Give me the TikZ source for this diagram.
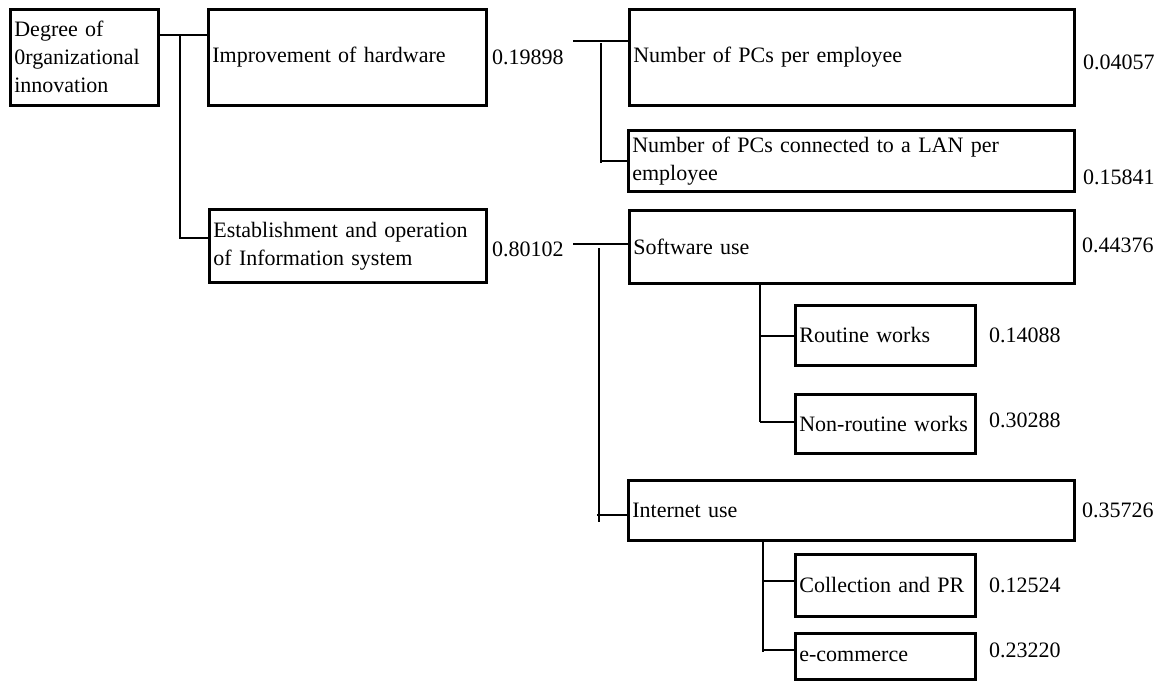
\documentclass[tikz,border=0pt]{standalone}
\usepackage{fontspec}
\setmainfont{Liberation Serif}
\newcommand{\fs}{\fontsize{22}{28}\selectfont}
\tikzset{
  box/.style={draw, line width=2.7pt, anchor=north west, inner xsep=4pt, inner ysep=0pt, align=left, font=\fs},
  val/.style={anchor=west, inner sep=0pt, font=\fs},
  conn/.style={line width=1.3pt}
}
\begin{document}
\begin{tikzpicture}[x=1pt,y=-1pt]
\useasboundingbox (0,0) rectangle (1166,680);
% boxes
\node[box, minimum width=148, minimum height=96, text width=140] (root) at (9,8) {Degree of\\0rganizational\\innovation};
\node[box, minimum width=278, minimum height=96, text width=270] (imp) at (207,8) {Improvement of hardware};
\node[box, minimum width=277, minimum height=73, text width=269] (est) at (208,208) {Establishment and operation\\of Information system};
\node[box, minimum width=445, minimum height=96, text width=437] (n1) at (628,8) {Number of PCs per employee};
\node[box, minimum width=446, minimum height=61, text width=438] (n2) at (627,129) {Number of PCs connected to a LAN per\\employee};
\node[box, minimum width=445, minimum height=73, text width=437] (sw) at (628,209) {Software use};
\node[box, minimum width=446, minimum height=60, text width=438] (iu) at (627,479) {Internet use};
\node[box, minimum width=180, minimum height=60, text width=172] (rw) at (794,304) {Routine works};
\node[box, minimum width=180, minimum height=59, text width=172] (nr) at (794,393) {Non-routine works};
\node[box, minimum width=180, minimum height=62, text width=172] (cp) at (794,553) {Collection and PR};
\node[box, minimum width=180, minimum height=46, text width=172] (ec) at (794,632) {e-commerce};
% values
\node[val] (v1) at (492,57) {0.19898};
\node[val] (v2) at (492,249) {0.80102};
\node[val] (v3) at (1083,62) {0.04057};
\node[val] (v4) at (1083,177) {0.15841};
\node[val] (v5) at (1082,245) {0.44376};
\node[val] (v6) at (1082,510) {0.35726};
\node[val] (v7) at (989,335) {0.14088};
\node[val] (v8) at (989,420) {0.30288};
\node[val] (v9) at (989,585) {0.12524};
\node[val] (v10) at (989,650) {0.23220};
% junction coordinates
\coordinate (j0) at (180,35);
\coordinate (j1) at (180,238);
\coordinate (h0) at (573,41);
\coordinate (h1) at (601,43);
\coordinate (h2) at (601,163);
\coordinate (h3) at (601,161);
\coordinate (s0) at (573,244);
\coordinate (s1) at (599,248);
\coordinate (s2) at (599,522);
\coordinate (s3) at (597,515);
\coordinate (t1) at (760,336);
\coordinate (t2) at (760,422);
\coordinate (u1) at (763,581);
\coordinate (u2) at (763,652);
\coordinate (u3) at (763,650);
% connectors
\draw[conn] (root.east |- j0) -- (imp.west |- j0);
\draw[conn] (j0) -- (j1) -- (j1 -| est.west);
\draw[conn] (h0) -- (h0 -| n1.west);
\draw[conn] (h1) -- (h2);
\draw[conn] (h3) -- (h3 -| n2.west);
\draw[conn] (s0) -- (s0 -| sw.west);
\draw[conn] (s1) -- (s2);
\draw[conn] (s3) -- (s3 -| iu.west);
\draw[conn] (sw.south -| t1) -- (t2);
\draw[conn] (t1) -- (t1 -| rw.west);
\draw[conn] (t2) -- (t2 -| nr.west);
\draw[conn] (iu.south -| u1) -- (u2);
\draw[conn] (u1) -- (u1 -| cp.west);
\draw[conn] (u3) -- (u3 -| ec.west);
\end{tikzpicture}
\end{document}
